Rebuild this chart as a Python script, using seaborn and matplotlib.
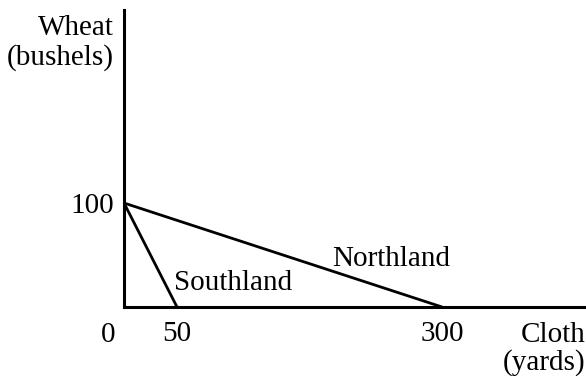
import matplotlib
matplotlib.use("Agg")
import matplotlib.pyplot as plt
import seaborn as sns
import pandas as pd

countries = ["Northland", "Southland"]
max_wheat = [100, 100]
max_cloth = [300, 50]
x_ticks = [50, 300]
y_ticks = [100]

sns.set_theme(style="white")
plt.rcParams["font.family"] = ["Liberation Serif", "DejaVu Serif"]

rows = []
for c, w, cl in zip(countries, max_wheat, max_cloth):
    rows.append({"country": c, "cloth": 0, "wheat": w})
    rows.append({"country": c, "cloth": cl, "wheat": 0})
df = pd.DataFrame(rows)

fig = plt.figure(figsize=(5.86, 3.76), dpi=100)
ax = fig.add_axes([124/586, 69/376, 462/586, 297/376])
sns.lineplot(data=df, x="cloth", y="wheat", hue="country", units="country",
             estimator=None, palette=["black", "black"], linewidth=2.0,
             legend=False, ax=ax, sort=False)

ax.set_xlim(0, 435.8)
ax.set_ylim(0, 285.6)
for s in ["top", "right"]:
    ax.spines[s].set_visible(False)
for s in ["left", "bottom"]:
    ax.spines[s].set_color("black")
    ax.spines[s].set_linewidth(2.2)

fs = 21
ax.set_xticks(x_ticks)
ax.set_xticklabels([str(v) for v in x_ticks])
ax.set_yticks(y_ticks)
ax.set_yticklabels([str(v) for v in y_ticks])
ax.tick_params(axis="both", length=0, labelsize=fs, colors="black")
ax.tick_params(axis="x", pad=10)
ax.tick_params(axis="y", pad=7)
ax.set_xlabel("")
ax.set_ylabel("")

# origin label
ax.annotate("0", xy=(0, 0), xycoords="data", xytext=(-16, -35),
            textcoords="offset pixels", fontsize=fs, ha="center",
            va="baseline", color="black")

# axis titles
fig.text(114/586, 1 - 35/376, "Wheat", ha="right", va="baseline",
         fontsize=fs, color="black")
fig.text(114/586, 1 - 65/376, "(bushels)", ha="right", va="baseline",
         fontsize=fs, color="black")
fig.text(585/586, 1 - 342/376, "Cloth", ha="right", va="baseline",
         fontsize=fs, color="black")
fig.text(585/586, 1 - 370/376, "(yards)", ha="right", va="baseline",
         fontsize=fs, color="black")

# series labels
ax.text(47, 16, "Southland", fontsize=fs, ha="left", va="baseline", color="black")
ax.text(196, 39, "Northland", fontsize=fs, ha="left", va="baseline", color="black")

fig.savefig("out.png", dpi=100)
